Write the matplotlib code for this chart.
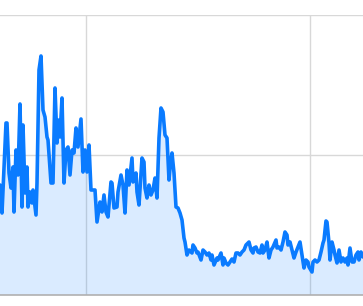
import matplotlib
matplotlib.use("Agg")
import matplotlib.pyplot as plt

# values (x = time step, y = level)
x = [
    0, 2, 6, 7, 9, 11, 13, 14, 16, 18, 20, 22, 23, 25, 27, 28, 30, 32, 33, 36,
    37, 39, 41, 43, 45, 47, 48, 51, 53, 55, 57, 58, 60, 62, 64, 66, 68, 70, 72, 74,
    76, 78, 81, 83, 85, 87, 89, 91, 93, 95, 97, 100, 102, 104, 106, 108, 111, 112, 114, 117,
    118, 121, 123, 125, 127, 129, 132, 133, 136, 137, 139, 142, 144, 145, 147, 149, 151, 153, 155, 157,
    159, 161, 163, 165, 167, 169, 170, 172, 174, 176, 178, 180, 182, 184, 185, 187, 189, 192, 193, 195,
    197, 198, 201, 203, 205, 207, 209, 211, 212, 214, 217, 218, 221, 223, 224, 226, 228, 230, 232, 234,
    236, 238, 240, 242, 244, 246, 248, 249, 251, 253, 254, 256, 258, 260, 262, 263, 265, 267, 269, 271,
    273, 276, 277, 279, 281, 283, 285, 287, 288, 290, 292, 294, 296, 298, 300, 302, 304, 306, 308, 309,
    312, 313, 315, 317, 319, 321, 323, 324, 326, 327, 329, 330, 332, 334, 335, 337, 339, 341, 343, 345,
    347, 348, 350, 352, 354, 356, 358, 359, 361, 363,
]
y = [
    110, 82, 172, 172, 122, 107, 128, 83, 145, 120, 191, 88, 170, 102, 128, 88, 103, 92, 105, 80,
    112, 225, 239, 185, 178, 158, 155, 112, 112, 207, 152, 175, 158, 197, 112, 145, 148, 120, 145, 142,
    167, 148, 176, 123, 145, 123, 150, 105, 105, 105, 73, 93, 83, 100, 83, 78, 113, 112, 87, 88,
    103, 120, 110, 82, 125, 110, 137, 113, 122, 103, 90, 137, 133, 107, 97, 110, 100, 105, 117, 97,
    157, 187, 183, 160, 157, 115, 127, 142, 122, 88, 87, 82, 75, 57, 53, 40, 45, 42, 50, 47,
    42, 43, 35, 45, 43, 40, 42, 35, 40, 30, 37, 35, 42, 30, 37, 32, 30, 33, 36, 33,
    42, 42, 40, 43, 45, 50, 52, 53, 45, 42, 47, 48, 43, 42, 50, 42, 45, 53, 37, 45,
    48, 55, 47, 48, 45, 53, 63, 60, 50, 53, 45, 37, 43, 48, 53, 40, 27, 35, 33, 28,
    23, 33, 35, 33, 35, 43, 52, 55, 74, 73, 52, 35, 53, 45, 40, 32, 45, 33, 37, 33,
    37, 30, 47, 33, 33, 40, 43, 35, 43, 38,
]

x_grid = [86, 310]
y_grid = [140, 280]

line_color = "#0a7bff"

fig = plt.figure(figsize=(3.63, 3.06), dpi=100)
ax = fig.add_axes([0, 11 / 306, 1, 280 / 306])
ax.set_xlim(0, 363)
ax.set_ylim(0, 280)

ax.fill_between(x, y, 0, color=line_color, alpha=0.15, linewidth=0, zorder=2)
ax.plot(x, y, color=line_color, linewidth=2.6, solid_joinstyle="round",
        solid_capstyle="round", zorder=3)

ax.set_xticks(x_grid)
ax.set_yticks(y_grid)
ax.grid(True, color="#d8d8d8", linewidth=1, zorder=1)
ax.set_axisbelow(True)
ax.tick_params(length=0, labelbottom=False, labelleft=False)
for side in ["top", "left", "right"]:
    ax.spines[side].set_visible(False)
ax.spines["bottom"].set_color("#b0b0b0")
ax.spines["bottom"].set_linewidth(1.2)

fig.savefig("out.png", dpi=100)
